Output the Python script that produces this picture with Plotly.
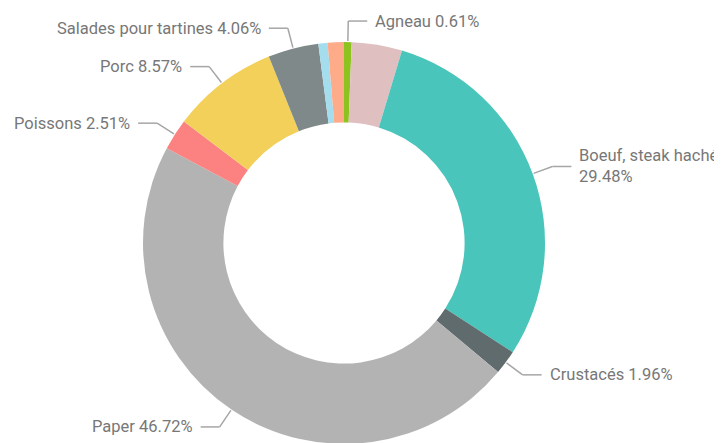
import math
import plotly.graph_objects as go

# ---- data ----
categories = ["Agneau", "Autres", "Boeuf, steak haché", "Crustacés", "Paper",
              "Poissons", "Porc", "Salades pour tartines", "Veau", "Volaille"]
values = [0.61, 4.05, 29.48, 1.96, 46.72, 2.51, 8.57, 4.06, 0.74, 1.30]
show_label = [True, False, True, True, True, True, True, True, False, False]
colors = ["#8DC21F", "#DFBFBF", "#4AC5BB", "#5F6B6D", "#B3B3B3",
          "#FB8281", "#F2D05A", "#7F898A", "#A4DDEE", "#FDAB89"]

# ---- layout geometry (page pixels; the page body adds an 8px margin) ----
PAGE_MARGIN = 8
W, H = 722 - PAGE_MARGIN, 443
cx, cy, R = 344 - PAGE_MARGIN, 243 - PAGE_MARGIN, 201
hole = 0.60

fig = go.Figure(go.Pie(
    labels=categories, values=values, sort=False, direction="clockwise",
    rotation=0, hole=hole, textinfo="none", hoverinfo="label+percent",
    marker=dict(colors=colors, line=dict(width=0)),
    domain=dict(x=[(cx - R) / W, (cx + R) / W], y=[(H - cy - R) / H, (H - cy + R) / H]),
    showlegend=False,
))

def px(x, y):
    return x / W, 1 - y / H

total = sum(values)
cum = 0.0
shapes, annotations = [], []
for cat, v, show in zip(categories, values, show_label):
    mid = (cum + v / 2) / total * 2 * math.pi
    cum += v
    if not show:
        continue
    s, c = math.sin(mid), math.cos(mid)
    x0, y0 = cx + (R + 1) * s, cy - (R + 1) * c
    x1, y1 = cx + (R + 21) * s, cy - (R + 21) * c
    side = 1 if s >= 0 else -1
    x2 = x1 + side * 19
    pct = f"{v / total * 100:.2f}%"
    txt = f"{cat}<br>{pct}" if len(cat) > 16 and side > 0 else f"{cat} {pct}"
    for (a, b), (c2, d) in [((x0, y0), (x1, y1)), ((x1, y1), (x2, y1))]:
        xa, ya = px(a, b)
        xb, yb = px(c2, d)
        shapes.append(dict(type="line", xref="paper", yref="paper",
                           x0=xa, y0=ya, x1=xb, y1=yb,
                           line=dict(color="#A6A6A6", width=1.5)))
    tx, ty = px(x2 + side * 6, y1)
    annotations.append(dict(text=txt, x=tx, y=ty, xref="paper", yref="paper",
                            xanchor="left" if side > 0 else "right", yanchor="middle",
                            align="left", showarrow=False,
                            font=dict(family="Roboto", size=16.5, color="#777777")))

fig.update_layout(width=W, height=H, margin=dict(l=0, r=0, t=0, b=0),
                  paper_bgcolor="white", plot_bgcolor="white",
                  shapes=shapes, annotations=annotations)
fig.write_html("out.html")
